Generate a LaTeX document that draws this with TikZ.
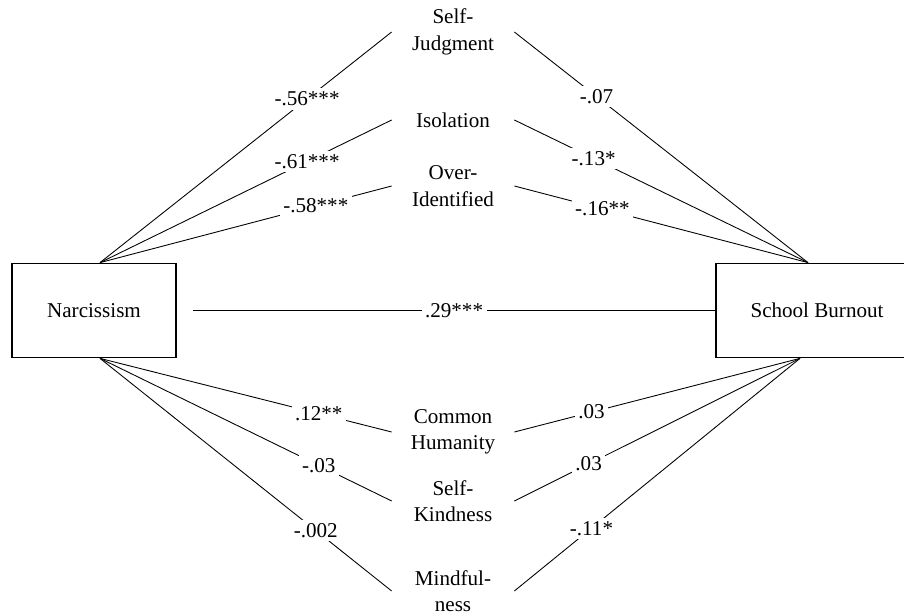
\documentclass[tikz,border=0pt]{standalone}
\usepackage{fontspec}
\setmainfont{Liberation Serif}
\usetikzlibrary{calc}
\tikzset{
  link/.style={draw=black,line width=0.5pt},
  construct/.style={
    draw=black,
    rectangle,
    line width=1pt,
    minimum height=1.88cm,
    minimum width=3.28cm,
    inner sep=2pt,
    align=center
  },
  facet/.style={
    rectangle,
    minimum width=2.44cm,
    inner sep=0pt,
    align=center
  },
  coef/.style={fill=white,inner sep=2pt}
}

\begin{document}
\begin{tikzpicture}[x=1cm,y=1cm,font=\fontsize{12}{15}\selectfont]
  \useasboundingbox (0,0) rectangle (18.08,12.30);
  \fill[white] (0,0) rectangle (18.08,12.30);

  % Predictor and outcome
  \node[construct] (narc) at (1.88,6.09) {Narcissism};
  \node[construct,minimum width=4.04cm] (burn) at (16.34,6.09) {School Burnout};
  \coordinate (narctop) at ($(narc.north)+(0.12,0)$);
  \coordinate (narcbot) at ($(narc.south)+(0.12,0)$);
  \coordinate (burntop) at ($(burn.north)+(-0.18,0)$);
  \coordinate (burnbot) at ($(burn.south)+(-0.34,0)$);

  % Self-compassion facets
  \node[facet] (sj) at (9.06,11.66) {Self-\\Judgment};
  \node[facet] (iso) at (9.06,9.90) {Isolation};
  \node[facet] (oi) at (9.06,8.58) {Over-\\Identified};
  \node[facet] (ch) at (9.06,3.66) {Common\\Humanity};
  \node[facet] (sk) at (9.06,2.28) {Self-\\Kindness};
  \node[facet] (mf) at (9.06,0.48) {Mindful-\\ness};

  % Paths from narcissism
  \draw[link] (narctop) -- node[coef,pos=0.71] {-.56***} (sj.west);
  \draw[link] (narctop) -- node[coef,pos=0.71] {-.61***} (iso.west);
  \draw[link] (narctop) -- node[coef,pos=0.74] {-.58***} (oi.west);
  \draw[link] (narcbot) -- node[coef,pos=0.75] {.12**} (ch.west);
  \draw[link] (narcbot) -- node[coef,pos=0.75] {-.03} (sk.west);
  \draw[link] (narcbot) -- node[coef,pos=0.74] {-.002} (mf.west);

  % Paths to school burnout
  \draw[link] (sj.east) -- node[coef,pos=0.28] {-.07} (burntop);
  \draw[link] (iso.east) -- node[coef,pos=0.27] {-.13*} (burntop);
  \draw[link] (oi.east) -- node[coef,pos=0.30] {-.16**} (burntop);
  \draw[link] (ch.east) -- node[coef,pos=0.27] {.03} (burnbot);
  \draw[link] (sk.east) -- node[coef,pos=0.26] {.03} (burnbot);
  \draw[link] (mf.east) -- node[coef,pos=0.27] {-.11*} (burnbot);

  % Direct path
  \draw[link,shorten <=0.32cm] (narc.east) -- node[coef,pos=0.515] {.29***} (burn.west);
\end{tikzpicture}
\end{document}
